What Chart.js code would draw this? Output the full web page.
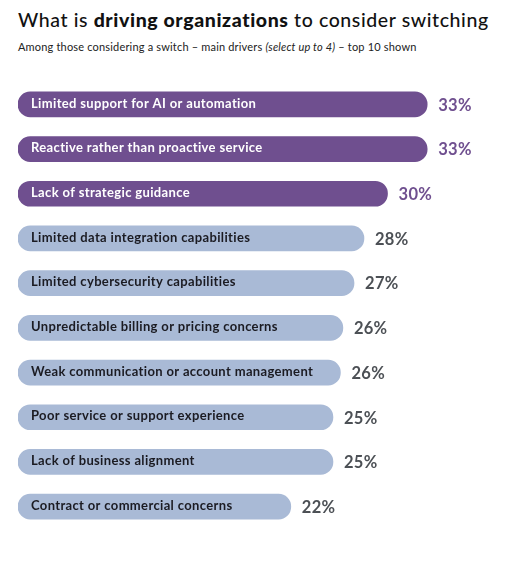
<!DOCTYPE html>
<html>
<head>
<meta charset="utf-8">
<script src="https://cdn.jsdelivr.net/npm/chart.js@4/dist/chart.umd.min.js"></script>
<style>
    html, body { margin: 0; padding: 0; background: #fff; }
    #wrap { position: relative; width: 516px; height: 561px; overflow: hidden; }
    #chart { position: absolute; left: 0; top: 0; }
    .title {
        position: absolute; left: 18px; top: 10px;
        font-family: Lato, "Noto Sans", sans-serif; font-size: 19.5px; line-height: 19px;
        color: #111; font-weight: 500; white-space: nowrap; letter-spacing: 0.6px;
    }
    .title b { font-weight: 900; }
    .subtitle {
        position: absolute; left: 18px; top: 41px;
        font-family: Lato, "Noto Sans", sans-serif; font-size: 11px; line-height: 11px;
        color: #222; white-space: nowrap; letter-spacing: 0.18px;
    }
</style>
</head>
<body>
<div id="wrap">
    <div class="title">What is <b>driving organizations</b> to consider switching</div>
    <div class="subtitle">Among those considering a switch – main drivers <i>(select up to 4)</i> – top 10 shown</div>
    <canvas id="chart" width="516" height="561"></canvas>
</div>
<script>
var categories = [
    'Limited support for AI or automation',
    'Reactive rather than proactive service',
    'Lack of strategic guidance',
    'Limited data integration capabilities',
    'Limited cybersecurity capabilities',
    'Unpredictable billing or pricing concerns',
    'Weak communication or account management',
    'Poor service or support experience',
    'Lack of business alignment',
    'Contract or commercial concerns'
];

// shown rounded
var values = [33.0, 33.0, 29.8, 27.9, 27.1, 26.2, 26.0, 25.4, 25.4, 22.0];

// first three are highlighted
var highlighted = [true, true, true, false, false, false, false, false, false, false];

var PURPLE = '#6f4f8f';
var BLUE = '#a9bad6';
var GRAY = '#4c5055';

var ChartPage =
{
    chart : null,

    init: function()
    {
        var ctx = document.getElementById('chart');

        var barLabels = {
            id: 'barLabels',
            afterDatasetsDraw: function (chart) {
                var c = chart.ctx;
                var meta = chart.getDatasetMeta(0);
                c.save();
                c.textBaseline = 'middle';
                c.textAlign = 'left';
                meta.data.forEach(function (bar, i) {
                    // category name inside the bar
                    c.font = '700 13px Lato, "Noto Sans", sans-serif';
                    c.letterSpacing = '0.35px';
                    c.fillStyle = highlighted[i] ? '#ffffff' : '#1b1b22';
                    c.fillText(categories[i], bar.base + 13, bar.y - 1);

                    // value after the bar
                    c.font = '700 16.5px Lato, "Noto Sans", sans-serif';
                    c.letterSpacing = '0.3px';
                    c.fillStyle = highlighted[i] ? PURPLE : GRAY;
                    c.fillText(Math.round(values[i]) + '%', bar.x + 11, bar.y + 1);
                });
                c.restore();
            }
        };

        ChartPage.chart = new Chart(ctx, {
            type: 'bar',
            data: {
                labels: categories,
                datasets: [{
                    data: values,
                    backgroundColor: highlighted.map(function (h) { return h ? PURPLE : BLUE; }),
                    borderRadius: 13,
                    borderSkipped: false,
                    barThickness: 25
                }]
            },
            options: {
                indexAxis: 'y',
                responsive: false,
                animation: false,
                layout: {
                    padding: { left: 18, right: 2, top: 82, bottom: 32 }
                },
                scales: {
                    x: { display: false, min: 0, max: 40 },
                    y: { display: false }
                },
                plugins: {
                    legend: { display: false },
                    tooltip: { enabled: false }
                }
            },
            plugins: [barLabels]
        });
    }
};
ChartPage.init();
</script>
</body>
</html>
